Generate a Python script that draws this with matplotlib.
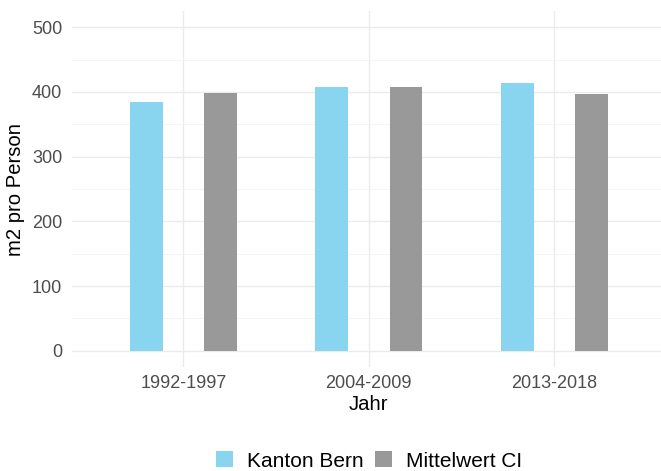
import numpy as np
import matplotlib
matplotlib.use('Agg')
import matplotlib.pyplot as plt
from matplotlib.patches import Patch

# Daten
jahre = ['1992-1997', '2004-2009', '2013-2018']
kanton_bern = [384, 407, 413]
mittelwert_ci = [399, 408, 396]
serien = ['Kanton Bern', 'Mittelwert CI']
farben = ['#89D5EF', '#999999']

plt.rcParams['font.family'] = ['Liberation Sans', 'DejaVu Sans']

fig = plt.figure(figsize=(6.61, 4.71), dpi=100)
ax = fig.add_axes([72 / 661, 104 / 471, 593.6 / 661, 356 / 471])

x = np.arange(1, len(jahre) + 1)
breite = 0.176
ax.bar(x - 0.2, kanton_bern, width=breite, color=farben[0], zorder=3)
ax.bar(x + 0.2, mittelwert_ci, width=breite, color=farben[1], zorder=3)

# Achsen
ax.set_xlim(0.4, 3.6)
ax.set_ylim(-25, 525)
ax.set_xticks(x)
ax.set_xticklabels(jahre)
ax.set_yticks([0, 100, 200, 300, 400, 500])
ax.set_yticks([50, 150, 250, 350, 450], minor=True)
ax.tick_params(axis='both', which='both', length=0, labelsize=13, colors='#4D4D4D')
ax.tick_params(axis='y', pad=7)
ax.tick_params(axis='x', pad=5.5)

# Gitter wie theme_minimal
ax.grid(which='major', color='#EBEBEB', linewidth=1.0, zorder=0)
ax.grid(which='minor', axis='y', color='#F2F2F2', linewidth=0.6, zorder=0)
for s in ax.spines.values():
    s.set_visible(False)

ax.set_xlabel('Jahr', fontsize=14.6, color='black', labelpad=2.5)
ax.set_ylabel('m2 pro Person', fontsize=14.6, color='black', labelpad=5)

# Legende unten, zentriert auf das Panel
handles = [Patch(facecolor=f, edgecolor='none') for f in farben]
fig.legend(handles, serien, loc='center', bbox_to_anchor=(369 / 661, 1 - 461 / 471),
           ncol=2, frameon=False, fontsize=15, handlelength=0.8, handleheight=0.8,
           handletextpad=0.66, columnspacing=0.58, borderpad=0)

plt.savefig('out.png', dpi=100)
